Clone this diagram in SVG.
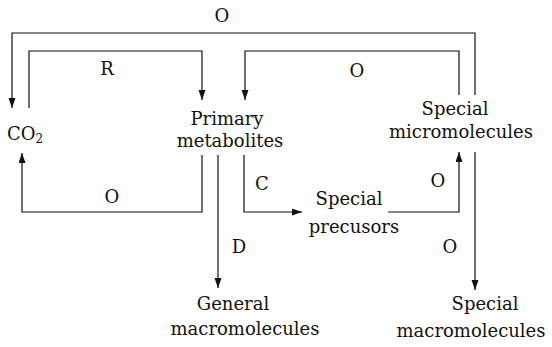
<svg xmlns="http://www.w3.org/2000/svg" width="552" height="347" viewBox="0 0 552 347">
<defs>
<style>
text{font-family:"DejaVu Serif","Liberation Serif",serif;font-size:18px;fill:#111;text-anchor:middle}
.c{fill:none;stroke:#111;stroke-width:1.2}
</style>
<marker id="ah" markerUnits="userSpaceOnUse" markerWidth="11" markerHeight="8" viewBox="0 0 11 8" refX="10" refY="3.5" orient="auto">
<path d="M0,0 L10,3.5 L0,7 Z" fill="#111"/>
</marker>
</defs>
<rect width="552" height="347" fill="#fff"/>
<g id="connectors">
<path class="c" d="M475,95 V33 H12 V108" marker-end="url(#ah)"/>
<path class="c" d="M29,108 V51 H202 V100" marker-end="url(#ah)"/>
<path class="c" d="M459,95 V51 H245 V100" marker-end="url(#ah)"/>
<path class="c" d="M202,155 V212 H22 V153" marker-end="url(#ah)"/>
<path class="c" d="M218,155 V288" marker-end="url(#ah)"/>
<path class="c" d="M244,155 V212 H302" marker-end="url(#ah)"/>
<path class="c" d="M388,212 H459 V152" marker-end="url(#ah)"/>
<path class="c" d="M475,152 V290" marker-end="url(#ah)"/>
<text x="222" y="22">O</text>
<text x="107" y="75">R</text>
<text x="357" y="77">O</text>
<text x="112" y="203">O</text>
<text x="239" y="253">D</text>
<text x="262" y="190">C</text>
<text x="438" y="187">O</text>
<text x="450" y="253">O</text>
</g>
<g id="co2"><text x="25" y="140">CO<tspan font-size="12" dy="3">2</tspan></text></g>
<g id="primary"><text x="227" y="125">Primary</text><text x="230" y="147">metabolites</text></g>
<g id="special-micro"><text x="455" y="115">Special</text><text x="461" y="138">micromolecules</text></g>
<g id="special-precursors"><text x="349" y="205">Special</text><text x="354" y="233">precusors</text></g>
<g id="general-macro"><text x="233" y="310">General</text><text x="245" y="335">macromolecules</text></g>
<g id="special-macro"><text x="485" y="310">Special</text><text x="471" y="337">macromolecules</text></g>
</svg>
